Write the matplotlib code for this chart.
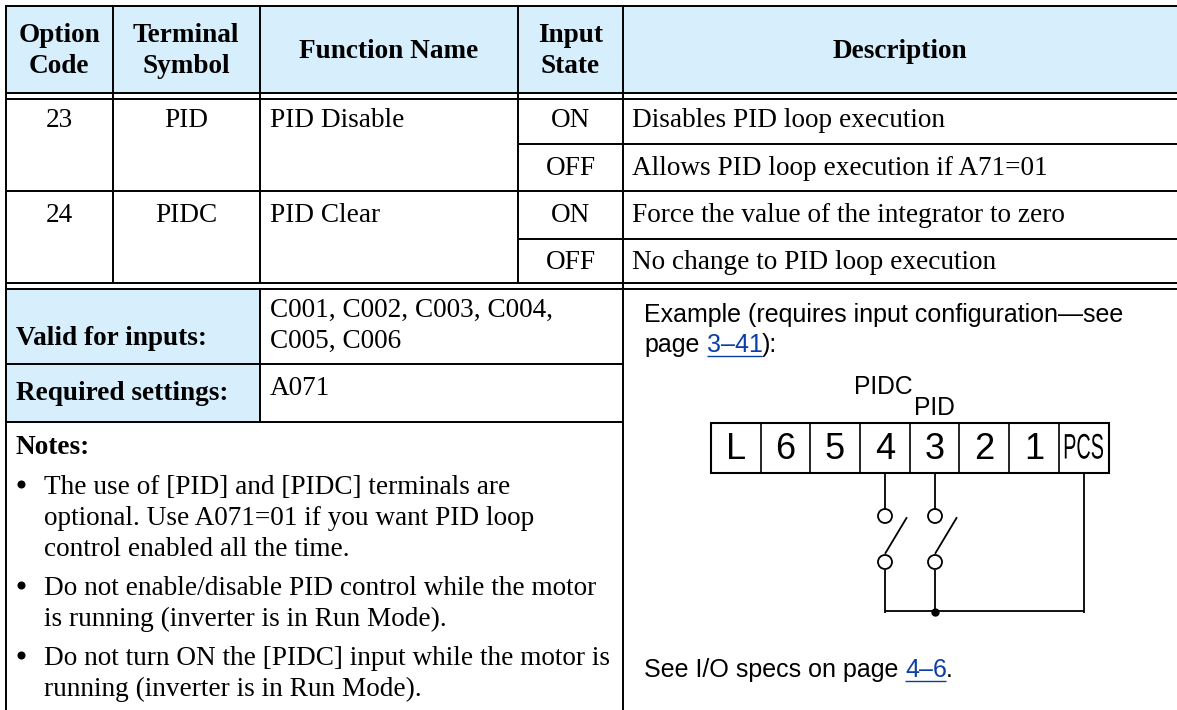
import matplotlib
matplotlib.use("Agg")
import matplotlib.pyplot as plt
from matplotlib.patches import Rectangle, Ellipse
from matplotlib.patheffects import AbstractPathEffect
from matplotlib.transforms import Affine2D

W, H = 1177, 710
SERIF = "Liberation Serif"
SANS = "Liberation Sans"
HEAD = "#d7eefc"
LINK = "#0b3ea8"

columns = ["Option\nCode", "Terminal\nSymbol", "Function Name", "Input\nState", "Description"]
codes = ["23", "24"]
symbols = ["PID", "PIDC"]
functions = ["PID Disable", "PID Clear"]
states = ["ON", "OFF", "ON", "OFF"]
descriptions = ["Disables PID loop execution", "Allows PID loop execution if A71=01",
                "Force the value of the integrator to zero", "No change to PID loop execution"]
valid_lines = ["C001, C002, C003, C004,", "C005, C006"]
notes = [["The use of [PID] and [PIDC] terminals are", "optional. Use A071=01 if you want PID loop", "control enabled all the time."],
         ["Do not enable/disable PID control while the motor", "is running (inverter is in Run Mode)."],
         ["Do not turn ON the [PIDC] input while the motor is", "running (inverter is in Run Mode)."]]
terminals = ["L", "6", "5", "4", "3", "2", "1", "PCS"]

class Squeeze(AbstractPathEffect):
    def __init__(self, sx, cx):
        super().__init__()
        self.sx, self.cx = sx, cx
    def draw_path(self, renderer, gc, tpath, affine, rgbFace=None):
        t = affine + Affine2D().translate(-self.cx, 0).scale(self.sx, 1).translate(self.cx, 0)
        renderer.draw_path(gc, tpath, t, rgbFace)

fig = plt.figure(figsize=(W / 100, H / 100), dpi=100)
ax = fig.add_axes([0, 0, 1, 1])
ax.set_xlim(0, W); ax.set_ylim(H, 0); ax.axis("off")

X = [5.5, 113, 259.5, 518, 623, W]
lw = 1.4
wire = 1.3
BODY = 19.6
SZ = 18

def hl(y, x0=X[0], x1=W, w=lw, c="k"):
    ax.plot([x0, x1], [y, y], color=c, lw=w, solid_capstyle="butt")
def vl(x, y0, y1, w=lw):
    ax.plot([x, x], [y0, y1], color="k", lw=w, solid_capstyle="butt")
def tx(x, y, s, fam=SERIF, size=BODY, weight="normal", ha="left", color="k"):
    return ax.text(x, y, s, family=fam, fontsize=size, fontweight=weight, ha=ha, va="baseline", color=color)

ax.add_patch(Rectangle((X[0], 6), W - X[0], 86, fc=HEAD, ec="none"))
ax.add_patch(Rectangle((X[0], 289), X[2] - X[0], 132, fc=HEAD, ec="none"))

for y in [6, 92.5, 98.5, 191, 282.5, 289]:
    hl(y)
for y in [144, 238.5]:
    hl(y, X[3])
hl(364, X[0], X[4]); hl(421.5, X[0], X[4])
vl(X[0], 5.3, H); vl(X[4], 5.3, H)
for x in X[1:4]:
    vl(x, 5.3, 283.2)
vl(X[2], 288.3, 422.2)

mid = [(X[i] + X[i + 1]) / 2 for i in range(5)]
for m, c in zip(mid, columns):
    parts = c.split("\n")
    if len(parts) == 2:
        tx(m, 42, parts[0], weight="bold", ha="center")
        tx(m, 73, parts[1], weight="bold", ha="center")
    else:
        tx(m, 58, c, weight="bold", ha="center")

for i, y in enumerate([127, 222]):
    tx(mid[0], y, codes[i], ha="center")
    tx(mid[1], y, symbols[i], ha="center")
    tx(270, y, functions[i])
for s, d, y in zip(states, descriptions, [127, 175, 222, 269]):
    tx(mid[3], y, s, ha="center")
    tx(632, y, d)

tx(16, 345, "Valid for inputs:", weight="bold")
tx(16, 400, "Required settings:", weight="bold")
tx(270, 317, valid_lines[0]); tx(270, 348, valid_lines[1])
tx(270, 395, "A071")
tx(16, 454, "Notes:", weight="bold")

y0s = [494, 595, 665]
for note, y0 in zip(notes, y0s):
    ax.plot([21], [y0 - 10], "o", color="k", ms=5.8, mec="none")
    for j, line in enumerate(note):
        tx(44, y0 + 31 * j, line)

tx(644, 322, "Example (requires input configuration\u2014see", SANS, SZ)
tx(644, 352, "page", SANS, SZ)
tx(707, 352, "3\u201341", SANS, SZ, color=LINK)
hl(355.5, 707, 762, 1.0, LINK)
tx(762, 352, "):", SANS, SZ)
tx(644, 677, "See I/O specs on page", SANS, SZ)
tx(905, 677, "4\u20136", SANS, SZ, color=LINK)
hl(680.5, 905, 946, 1.0, LINK)
tx(946, 677, ".", SANS, SZ)

# terminal strip
bx0, bx1, by0, by1 = 711, 1109, 423, 473
div = [761, 810, 860, 910, 959, 1009, 1059]
ax.add_patch(Rectangle((bx0, by0), bx1 - bx0, by1 - by0, fc="none", ec="k", lw=1.5))
for d in div:
    vl(d, by0, by1, 1.2)
centers = [736, 785.5, 835, 885, 935, 984.5, 1034.5, 1083.5]
for c, s in zip(centers, terminals):
    if s == "PCS":
        t = tx(c, 458.5, s, SANS, 25.5, ha="center")
        t.set_path_effects([Squeeze(0.56, c)])
    else:
        tx(c, 459, s, SANS, 26, ha="center")
tx(883, 394, "PIDC", SANS, 17.7, ha="center")
tx(934.5, 415, "PID", SANS, 17.7, ha="center")

# switches and wiring
wires = [885, 935]
top_y, low_y, bus_y = 516, 562, 611
for x in wires:
    vl(x, by1, top_y - 7.5, wire)
    vl(x, low_y + 7.5, bus_y, wire)
    for cy in (top_y, low_y):
        ax.add_patch(Ellipse((x, cy), 14, 14, fc="white", ec="k", lw=wire))
    ax.plot([x + 0.5, x + 21.5], [553, 518], color="k", lw=wire)
vl(1084, by1, 613, wire)
vl(885, 611, 613, wire)
hl(bus_y, 885, 1084, wire)
ax.plot([935], [612], "o", color="k", ms=6, mec="none")

fig.savefig("out.png", dpi=100)
